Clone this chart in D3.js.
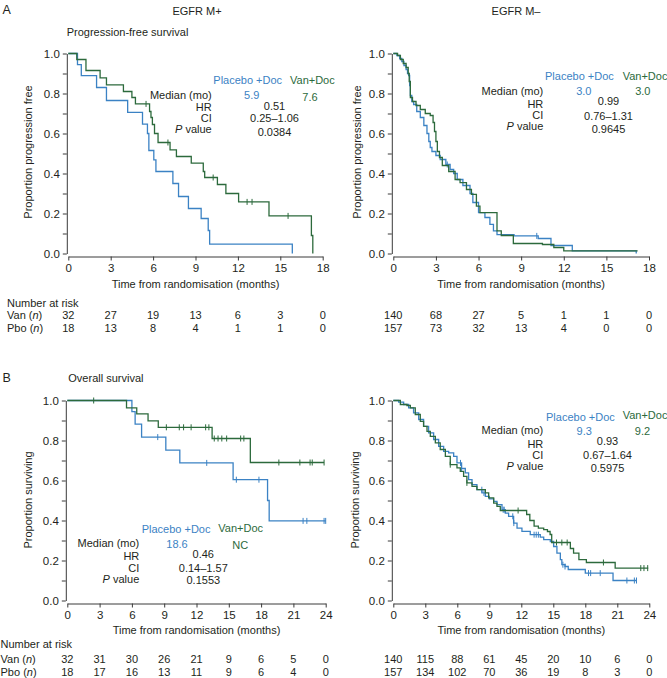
<!DOCTYPE html>
<html><head><meta charset="utf-8">
<script src="https://cdn.jsdelivr.net/npm/d3@7"></script>
<style>
body{margin:0;background:#fff}
svg text{font-family:"Liberation Sans",Arial,Helvetica,sans-serif;fill:#231f20}
</style></head><body>
<svg id="chart" width="667" height="678"></svg>
<script>
// ---------- DATA ----------
const colorPbo = "#3b82c4", colorVan = "#2c6a3c";
const pfsTicks = [0, 3, 6, 9, 12, 15, 18];
const osTicks = [0, 3, 6, 9, 12, 15, 18, 21, 24];
const yTicks = [0, 0.1, 0.2, 0.3, 0.4, 0.5, 0.6, 0.7, 0.8, 0.9, 1.0];

// A: PFS, EGFR M+
const pfsPosPboT = [0.65, 0.92, 2.0, 2.7, 4.2, 5.25, 5.6, 5.7, 6.05, 6.2, 7.4, 7.8, 8.5, 9.4, 9.9, 10.0, 15.85];
const pfsPosPboS = [0.944, 0.889, 0.830, 0.765, 0.706, 0.647, 0.600, 0.515, 0.468, 0.410, 0.350, 0.285, 0.225, 0.175, 0.115, 0.047, 0];
const pfsPosPboCens = [];
const pfsPosVanT = [0.6, 1.25, 2.25, 2.7, 3.9, 4.5, 4.75, 5.75, 5.85, 5.95, 6.1, 6.35, 7.2, 7.65, 8.7, 9.55, 9.65, 10.55, 11.15, 12.05, 14.2, 17.2, 17.3];
const pfsPosVanS = [0.970, 0.915, 0.878, 0.843, 0.810, 0.780, 0.748, 0.710, 0.680, 0.645, 0.600, 0.555, 0.518, 0.485, 0.452, 0.410, 0.380, 0.345, 0.300, 0.258, 0.188, 0.090, 0];
const pfsPosVanCens = [5.5, 7.05, 10.25, 12.65, 13.0, 15.55];

// A: PFS, EGFR M-
const pfsNegPboT = [0.25, 0.45, 0.6, 0.75, 0.9, 1.0, 1.08, 1.15, 1.2, 1.3, 1.43, 1.65, 1.9, 2.15, 2.37, 2.5, 2.6, 2.72, 3.0, 3.3, 3.7, 4.0, 4.25, 4.5, 4.9, 5.4, 5.6, 6.0, 6.45, 6.8, 7.05, 7.3, 8.5, 10.2, 11.1, 12.6, 17.1];
const pfsNegPboS = [0.99, 0.975, 0.96, 0.94, 0.92, 0.90, 0.89, 0.84, 0.79, 0.76, 0.745, 0.71, 0.68, 0.64, 0.60, 0.56, 0.53, 0.51, 0.49, 0.47, 0.445, 0.42, 0.40, 0.37, 0.34, 0.30, 0.255, 0.204, 0.18, 0.146, 0.113, 0.094, 0.088, 0.075, 0.04, 0.013, 0];
const pfsNegPboCens = [3.8, 10.1];
const pfsNegVanT = [0.3, 0.5, 0.7, 0.9, 1.05, 1.12, 1.2, 1.35, 1.6, 1.9, 2.25, 2.6, 2.8, 2.9, 3.0, 3.1, 3.25, 3.45, 3.9, 4.35, 4.7, 5.15, 5.5, 5.85, 6.1, 7.3, 7.6, 8.45, 10.5, 11.3, 12.0];
const pfsNegVanS = [0.99, 0.97, 0.95, 0.93, 0.90, 0.86, 0.78, 0.76, 0.74, 0.72, 0.70, 0.69, 0.655, 0.61, 0.56, 0.51, 0.48, 0.44, 0.41, 0.37, 0.354, 0.32, 0.296, 0.237, 0.204, 0.113, 0.09, 0.05, 0.045, 0.03, 0.013];
const pfsNegVanCens = [];

// B: OS, EGFR M+
const osPosPboT = [6.0, 6.3, 6.9, 9.15, 10.45, 15.4, 18.6, 18.75];
const osPosPboS = [0.944, 0.882, 0.817, 0.752, 0.688, 0.604, 0.50, 0.398];
const osPosPboCens = [8.4, 12.95, 15.7, 17.8, 21.9, 22.25, 23.85, 24.0];
const osPosVanT = [5.5, 6.45, 7.5, 8.45, 13.45, 17.0];
const osPosVanS = [0.963, 0.933, 0.898, 0.866, 0.81, 0.69];
const osPosVanCens = [2.45, 9.2, 10.4, 10.8, 11.5, 12.85, 13.15, 13.65, 14.0, 14.35, 14.8, 16.1, 16.4, 19.65, 21.6, 22.55, 22.75, 23.85];

// B: OS, EGFR M-
const osNegPboT = [0.5, 0.97, 1.44, 1.9, 2.38, 2.84, 3.31, 3.78, 4.25, 4.72, 5.19, 5.66, 5.97, 6.4, 6.75, 7.06, 7.38, 7.84, 8.31, 8.63, 9.0, 9.41, 9.72, 10.19, 10.5, 10.81, 11.28, 11.6, 12.06, 12.84, 13.78, 14.1, 14.72, 15.03, 15.34, 15.66, 15.8, 16.1, 16.4, 18.0, 20.6];
const osNegPboS = [0.992, 0.98, 0.963, 0.938, 0.905, 0.871, 0.838, 0.805, 0.771, 0.746, 0.738, 0.721, 0.688, 0.66, 0.638, 0.604, 0.579, 0.554, 0.538, 0.521, 0.508, 0.496, 0.479, 0.454, 0.437, 0.421, 0.387, 0.362, 0.346, 0.329, 0.317, 0.304, 0.295, 0.27, 0.237, 0.204, 0.179, 0.17, 0.155, 0.137, 0.10];
const osNegPboCens = [6.3, 6.4, 8.3, 8.5, 10.3, 10.4, 11.2, 11.3, 13.2, 13.4, 13.6, 15.9, 16.1, 18.3, 18.5, 19.4, 21.9, 22.6, 22.8];
const osNegVanT = [0.66, 1.28, 1.6, 2.06, 2.53, 2.84, 3.16, 3.47, 3.94, 4.4, 4.88, 5.34, 5.97, 6.28, 6.59, 6.9, 7.38, 7.84, 8.63, 8.94, 9.41, 9.72, 10.03, 12.5, 12.8, 13.2, 13.6, 14.1, 14.45, 14.7, 14.85, 16.6, 16.9, 17.4, 18.1, 20.8];
const osNegVanS = [0.98, 0.975, 0.963, 0.93, 0.896, 0.871, 0.846, 0.821, 0.788, 0.755, 0.721, 0.679, 0.663, 0.646, 0.621, 0.588, 0.571, 0.554, 0.538, 0.513, 0.487, 0.471, 0.45, 0.43, 0.40, 0.372, 0.362, 0.354, 0.345, 0.33, 0.29, 0.26, 0.237, 0.204, 0.19, 0.162];
const osNegVanCens = [5.34, 6.9, 11.7, 15.3, 15.8, 16.3, 19.7, 23.2, 23.5, 23.85];

// follow-up end times [Pbo, Van] per panel
const endPfsPos = [15.85, 17.3], endPfsNeg = [17.1, 17.2], endOsPos = [24.0, 23.85], endOsNeg = [22.8, 23.9];

// numbers at risk
const riskPfsPosVan = [32, 27, 19, 13, 6, 3, 0];
const riskPfsPosPbo = [18, 13, 8, 4, 1, 1, 0];
const riskPfsNegVan = [140, 68, 27, 5, 1, 1, 0];
const riskPfsNegPbo = [157, 73, 32, 13, 4, 0, 0];
const riskOsPosVan = [32, 31, 30, 26, 21, 9, 6, 5, 0];
const riskOsPosPbo = [18, 17, 16, 13, 11, 9, 6, 4, 0];
const riskOsNegVan = [140, 115, 88, 61, 45, 20, 10, 6, 0];
const riskOsNegPbo = [157, 134, 102, 70, 36, 19, 8, 3, 0];

// statistics
const medianPbo = ["5.9", "3.0", "18.6", "9.3"];
const medianVan = ["7.6", "3.0", "NC", "9.2"];
const hrVals = ["0.51", "0.99", "0.46", "0.93"];
const ciVals = ["0.25\u20131.06", "0.76\u20131.31", "0.14\u20131.57", "0.67\u20131.64"];
const pVals = ["0.0384", "0.9645", "0.1553", "0.5975"];

// ---------- LAYOUT ----------
const panels = [
  {xr:[68.3,322.7], yr:[253.5,53.5], xmax:18, ticks:pfsTicks,
   pbo:[pfsPosPboT,pfsPosPboS,pfsPosPboCens], van:[pfsPosVanT,pfsPosVanS,pfsPosVanCens], end:endPfsPos,
   risk:[riskPfsPosVan,riskPfsPosPbo], riskY:[318.5,331.5], tickY:271.5, titleY:288,
   ytitle:"Proportion progression free", ytx:28.5, yty:152,
   an:{hdrY:84, vanHdrY:83.5, plcX:213.3, vanX:290, labR:211.7, labY:[98.5,110.5,121.5,132.5], mpX:251.7, mpY:98.8, mvX:310, mvY:100.8, valX:274.5, valY:[110,122,136]}},
  {xr:[393.3,649], yr:[253.5,53.5], xmax:18, ticks:pfsTicks,
   pbo:[pfsNegPboT,pfsNegPboS,pfsNegPboCens], van:[pfsNegVanT,pfsNegVanS,pfsNegVanCens], end:endPfsNeg,
   risk:[riskPfsNegVan,riskPfsNegPbo], riskY:[318.5,331.5], tickY:271.5, titleY:288,
   ytitle:"Proportion progression free", ytx:357.5, yty:152,
   an:{hdrY:80, vanHdrY:80, plcX:545, vanX:622.7, labR:543.3, labY:[94.8,108,119,130], mpX:583.8, mpY:95, mvX:642.8, mvY:95, valX:608.5, valY:[104.8,120,132.5]}},
  {xr:[67.3,325.7], yr:[600.5,400.5], xmax:24, ticks:osTicks,
   pbo:[osPosPboT,osPosPboS,osPosPboCens], van:[osPosVanT,osPosVanS,osPosVanCens], end:endOsPos,
   risk:[riskOsPosVan,riskOsPosPbo], riskY:[662.5,676], tickY:619, titleY:633.5,
   ytitle:"Proportion surviving", ytx:28.5, yty:500,
   an:{hdrY:532.5, vanHdrY:531.5, plcX:141.7, vanX:218.3, labR:139.3, labY:[546.5,560,571.5,582.5], mpX:177, mpY:547.5, mvX:240.3, mvY:548.5, valX:203.3, valY:[558,572,584]}},
  {xr:[393.3,649.3], yr:[600.5,400.5], xmax:24, ticks:osTicks,
   pbo:[osNegPboT,osNegPboS,osNegPboCens], van:[osNegVanT,osNegVanS,osNegVanCens], end:endOsNeg,
   risk:[riskOsNegVan,riskOsNegPbo], riskY:[662.5,676], tickY:619, titleY:633.5,
   ytitle:"Proportion surviving", ytx:355.5, yty:500,
   an:{hdrY:420.8, vanHdrY:419, plcX:546, vanX:622.7, labR:543.3, labY:[433.5,447.5,459,470], mpX:584.2, mpY:434.8, mvX:642.5, mvY:434.8, valX:607.5, valY:[444.8,459,471.5]}}
];

const svg = d3.select("#chart");
const FS = "11px";

function txt(x, y, s, anchor, color, size) {
  return svg.append("text").attr("x", x).attr("y", y).attr("text-anchor", anchor || "start")
    .style("font-size", size || FS).style("fill", color || "#231f20").text(s);
}
function survAt(T, S, t) {
  let s = 1;
  for (let i = 0; i < T.length; i++) if (T[i] <= t) s = S[i];
  return s;
}

panels.forEach((p, pi) => {
  const x = d3.scaleLinear().domain([0, p.xmax]).range(p.xr);
  const y = d3.scaleLinear().domain([0, 1]).range(p.yr);

  // axes
  const yAx = svg.append("g").attr("transform", `translate(${p.xr[0] - 1.5},0)`)
    .call(d3.axisLeft(y).tickValues(yTicks).tickSize(4).tickSizeOuter(0).tickPadding(3)
      .tickFormat(d => (Math.round(d * 10) % 2 === 0) ? d.toFixed(1) : ""));
  const xAx = svg.append("g").attr("transform", `translate(0,${p.yr[0] + 3})`)
    .call(d3.axisBottom(x).tickValues(p.ticks).tickSize(4).tickSizeOuter(0).tickPadding(3));
  [yAx, xAx].forEach(g => {
    g.selectAll("path,line").attr("stroke", "#3a3a3a");
    g.selectAll("text").style("font-size", "11.5px").style("fill", "#231f20")
      .style("font-family", '"Liberation Sans",Arial,Helvetica,sans-serif');
  });
  xAx.selectAll("text").attr("dy", null).attr("y", p.tickY - p.yr[0] - 3);

  // axis titles
  txt((p.xr[0] + p.xr[1]) / 2, p.titleY, "Time from randomisation (months)", "middle");
  svg.append("text").attr("transform", `translate(${p.ytx},${p.yty}) rotate(-90)`)
    .attr("text-anchor", "middle").attr("dy", "0.35em").style("font-size", FS).text(p.ytitle);

  // curves
  const line = d3.line().x(d => x(d[0])).y(d => y(d[1])).curve(d3.curveStepAfter);
  const curves = [[p.pbo, colorPbo, p.end[0]], [p.van, colorVan, p.end[1]]];
  curves.forEach(([c, col, end]) => {
    const [T, S, C] = c;
    const pts = [[0, 1]];
    T.forEach((t, i) => pts.push([t, S[i]]));
    if (end > T[T.length - 1]) pts.push([end, S[S.length - 1]]);
    svg.append("path").attr("d", line(pts)).attr("fill", "none")
      .attr("stroke", col).attr("stroke-width", 1.3);
    svg.append("g").selectAll("line").data(C).join("line")
      .attr("x1", d => x(d)).attr("x2", d => x(d))
      .attr("y1", d => y(survAt(T, S, d)) - 3).attr("y2", d => y(survAt(T, S, d)) + 3)
      .attr("stroke", col).attr("stroke-width", 1);
  });

  // numbers at risk
  p.risk.forEach((row, ri) => {
    row.forEach((v, i) => txt(x(p.ticks[i]), p.riskY[ri], v, "middle"));
  });

  // annotation
  const a = p.an;
  txt(a.plcX, a.hdrY, "Placebo +Doc", "start", colorPbo);
  txt(a.vanX, a.vanHdrY, "Van+Doc", "start", colorVan);
  txt(a.labR, a.labY[0], "Median (mo)", "end");
  txt(a.labR, a.labY[1], "HR", "end");
  txt(a.labR, a.labY[2], "CI", "end");
  const pv = txt(a.labR, a.labY[3], "", "end");
  pv.append("tspan").style("font-style", "italic").text("P");
  pv.append("tspan").text(" value");
  txt(a.mpX, a.mpY, medianPbo[pi], "middle", colorPbo);
  txt(a.mvX, a.mvY, medianVan[pi], "middle", colorVan);
  txt(a.valX, a.valY[0], hrVals[pi], "middle");
  txt(a.valX, a.valY[1], ciVals[pi], "middle");
  txt(a.valX, a.valY[2], pVals[pi], "middle");
});

// row labels
function rowLabel(x, y, name) {
  const t = txt(x, y, "");
  t.append("tspan").text(name + " (");
  t.append("tspan").style("font-style", "italic").text("n");
  t.append("tspan").text(")");
}
txt(7, 306.5, "Number at risk");
rowLabel(7, 318.5, "Van");
rowLabel(7, 331.5, "Pbo");
txt(0.5, 647.5, "Number at risk");
rowLabel(0.5, 662.5, "Van");
rowLabel(0.5, 676, "Pbo");

// titles
txt(2.5, 14, "A", "start", null, "12.5px");
txt(2.5, 382, "B", "start", null, "12.5px");
txt(197, 14.5, "EGFR M+", "middle");
txt(516, 14.5, "EGFR M\u2013", "middle");
txt(66.7, 35.5, "Progression-free survival");
txt(68.3, 382, "Overall survival");
</script>
</body></html>
